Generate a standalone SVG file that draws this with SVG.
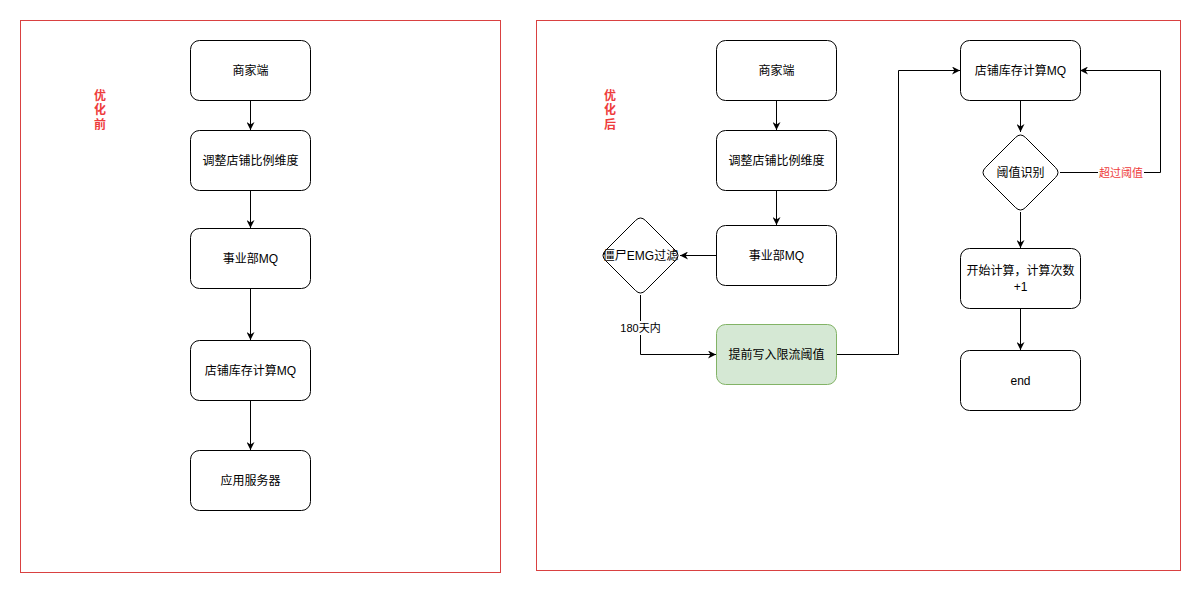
<svg xmlns="http://www.w3.org/2000/svg" width="1201" height="593" viewBox="0 0 1201 593">
<defs>
<style>
.panel{fill:#ffffff;stroke:#d94141;stroke-width:1}
.box{fill:#ffffff;stroke:#000000;stroke-width:1}
.green{fill:#d5e8d4;stroke:#82b366;stroke-width:1}
.t{font-family:"Liberation Sans","Noto Sans CJK SC",sans-serif;font-size:12px;fill:#000000;text-anchor:middle}
.lbl{font-family:"Liberation Sans","Noto Sans CJK SC",sans-serif;font-size:11px;fill:#000000;text-anchor:middle}
.red{fill:#ee3b3b}
.title{font-family:"Liberation Sans","Noto Sans CJK SC",sans-serif;font-size:12px;font-weight:bold;fill:#ee3b3b;text-anchor:middle}
.edge{fill:none;stroke:#000000;stroke-width:1}
</style>
<marker id="arr" viewBox="0 0 10 10" refX="10" refY="5" markerWidth="8" markerHeight="8" markerUnits="userSpaceOnUse" orient="auto">
<path d="M0,0 L10,5 L0,10 L3,5 z" fill="#000000"/>
</marker>
</defs>
<rect width="1201" height="593" fill="#ffffff"/>

<g id="panel-before">
<rect class="panel" x="20.5" y="20.5" width="480" height="552"/>
<text class="title" x="100" y="100">优</text>
<text class="title" x="100" y="114">化</text>
<text class="title" x="100" y="129">前</text>
</g>
<g id="panel-after">
<rect class="panel" x="536.5" y="20.5" width="644" height="550"/>
<text class="title" x="610" y="100">优</text>
<text class="title" x="610" y="114">化</text>
<text class="title" x="610" y="129">后</text>
</g>

<g id="connectors">
<path class="edge" d="M250.5,100 L250.5,130" marker-end="url(#arr)"/>
<path class="edge" d="M250.5,190 L250.5,228" marker-end="url(#arr)"/>
<path class="edge" d="M250.5,288 L250.5,340" marker-end="url(#arr)"/>
<path class="edge" d="M250.5,400 L250.5,450" marker-end="url(#arr)"/>

<path class="edge" d="M776.5,100 L776.5,130" marker-end="url(#arr)"/>
<path class="edge" d="M776.5,190 L776.5,225" marker-end="url(#arr)"/>
<path class="edge" d="M716,255.5 L680,255.5" marker-end="url(#arr)"/>
<path class="edge" d="M640.5,295 L640.5,354.5 L716,354.5" marker-end="url(#arr)"/>
<path class="edge" d="M836,354.5 L898.5,354.5 L898.5,70.5 L960,70.5" marker-end="url(#arr)"/>
<path class="edge" d="M1020.5,100 L1020.5,132" marker-end="url(#arr)"/>
<path class="edge" d="M1060,172.5 L1160.5,172.5 L1160.5,70.5 L1080,70.5" marker-end="url(#arr)"/>
<path class="edge" d="M1020.5,212 L1020.5,248" marker-end="url(#arr)"/>
<path class="edge" d="M1020.5,308 L1020.5,350" marker-end="url(#arr)"/>

<rect x="620" y="321" width="41" height="14" fill="#ffffff"/>
<text class="lbl" x="640.5" y="332">180天内</text>
<rect x="1098" y="165" width="46" height="15" fill="#ffffff"/>
<text class="lbl red" x="1121" y="176.5">超过阈值</text>
</g>

<g id="l-merchant">
<rect class="box" x="190.5" y="40.5" width="120" height="60" rx="9"/>
<text class="t" x="250.5" y="74.5">商家端</text>
</g>
<g id="l-adjust">
<rect class="box" x="190.5" y="130.5" width="120" height="60" rx="9"/>
<text class="t" x="250.5" y="164.5">调整店铺比例维度</text>
</g>
<g id="l-bu-mq">
<rect class="box" x="190.5" y="228.5" width="120" height="60" rx="9"/>
<text class="t" x="250.5" y="262.5">事业部MQ</text>
</g>
<g id="l-stock-mq">
<rect class="box" x="190.5" y="340.5" width="120" height="60" rx="9"/>
<text class="t" x="250.5" y="374.5">店铺库存计算MQ</text>
</g>
<g id="l-app">
<rect class="box" x="190.5" y="450.5" width="120" height="60" rx="9"/>
<text class="t" x="250.5" y="484.5">应用服务器</text>
</g>

<g id="r-merchant">
<rect class="box" x="716.5" y="40.5" width="120" height="60" rx="9"/>
<text class="t" x="776.5" y="74.5">商家端</text>
</g>
<g id="r-adjust">
<rect class="box" x="716.5" y="130.5" width="120" height="60" rx="9"/>
<text class="t" x="776.5" y="164.5">调整店铺比例维度</text>
</g>
<g id="r-bu-mq">
<rect class="box" x="716.5" y="225.5" width="120" height="60" rx="9"/>
<text class="t" x="776.5" y="259.5">事业部MQ</text>
</g>
<g id="r-filter">
<path class="box" d="M635.5,220.5 Q640.5,215.5 645.5,220.5 L675.5,250.5 Q680.5,255.5 675.5,260.5 L645.5,290.5 Q640.5,295.5 635.5,290.5 L605.5,260.5 Q600.5,255.5 605.5,250.5 Z"/>
<text class="t" x="640.5" y="259.5">僵尸EMG过滤</text>
</g>
<g id="r-prewrite">
<rect class="green" x="716.5" y="324.5" width="120" height="60" rx="9"/>
<text class="t" x="776.5" y="358.5">提前写入限流阈值</text>
</g>
<g id="r-stock-mq">
<rect class="box" x="960.5" y="40.5" width="120" height="60" rx="9"/>
<text class="t" x="1020.5" y="74.5">店铺库存计算MQ</text>
</g>
<g id="r-threshold">
<path class="box" d="M1015.5,137.5 Q1020.5,132.5 1025.5,137.5 L1055.5,167.5 Q1060.5,172.5 1055.5,177.5 L1025.5,207.5 Q1020.5,212.5 1015.5,207.5 L985.5,177.5 Q980.5,172.5 985.5,167.5 Z"/>
<text class="t" x="1020.5" y="176.5">阈值识别</text>
</g>
<g id="r-compute">
<rect class="box" x="960.5" y="248.5" width="120" height="60" rx="9"/>
<text class="t" x="1020.5" y="274.5">开始计算，计算次数</text>
<text class="t" x="1020.5" y="290.5">+1</text>
</g>
<g id="r-end">
<rect class="box" x="960.5" y="350.5" width="120" height="60" rx="9"/>
<text class="t" x="1020.5" y="384.5">end</text>
</g>
</svg>
